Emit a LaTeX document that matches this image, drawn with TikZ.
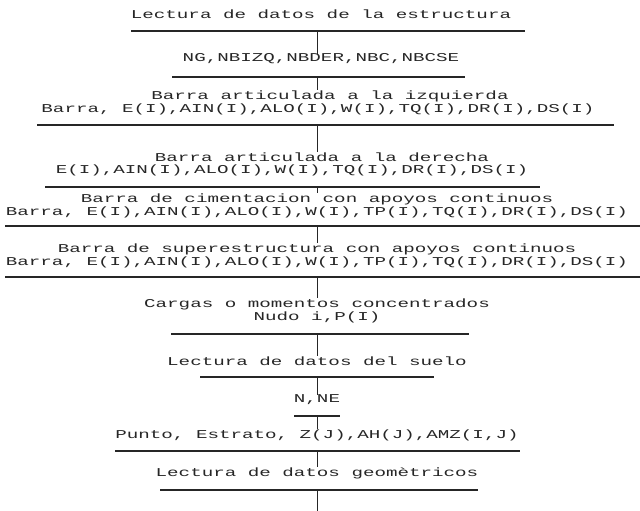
\documentclass[tikz,border=0pt]{standalone}
\usepackage{fontspec}
\newfontfamily\tw[FakeStretch=1.6]{Liberation Mono}
\begin{document}
\begin{tikzpicture}[x=1pt,y=-1pt,
  txt/.style={font=\tw\fontsize{12}{13}\selectfont, inner sep=0pt, align=center, text=black!85},
  rule/.style={line width=1.1pt, black!85},
  conn/.style={line width=0.9pt, black!85}]
\useasboundingbox (0,0) rectangle (640,511);
% texts
\node[txt] (t1) at (321,14) {Lectura de datos de la estructura};
\node[txt] (t2) at (321,59) {NG,NBIZQ,NBDER,NBC,NBCSE};
\node[txt] (t3) at (330,96) {Barra articulada a la izquierda};
\node[txt] (t3b) at (318,109.5) {Barra, E(I),AIN(I),ALO(I),W(I),TQ(I),DR(I),DS(I)};
\node[txt] (t4) at (322,157) {Barra articulada a la derecha};
\node[txt] (t4b) at (292,170.5) {E(I),AIN(I),ALO(I),W(I),TQ(I),DR(I),DS(I)};
\node[txt] (t5) at (317,199) {Barra de cimentacion con apoyos continuos};
\node[txt] (t5b) at (317,212.5) {Barra, E(I),AIN(I),ALO(I),W(I),TP(I),TQ(I),DR(I),DS(I)};
\node[txt] (t6) at (317,249) {Barra de superestructura con apoyos continuos};
\node[txt] (t6b) at (317,262.5) {Barra, E(I),AIN(I),ALO(I),W(I),TP(I),TQ(I),DR(I),DS(I)};
\node[txt] (t7) at (317,304) {Cargas o momentos concentrados};
\node[txt] (t7b) at (317,317.5) {Nudo i,P(I)};
\node[txt] (t8) at (317,361) {Lectura de datos del suelo};
\node[txt] (t9) at (317,400) {N,NE};
\node[txt] (t10) at (317,435) {Punto, Estrato, Z(J),AH(J),AMZ(I,J)};
\node[txt] (t11) at (317,473) {Lectura de datos geom\`etricos};
% rules
\coordinate (r1a) at (131,31); \coordinate (r1b) at (525,31);
\coordinate (r2a) at (172,77); \coordinate (r2b) at (465,77);
\coordinate (r3a) at (37,125); \coordinate (r3b) at (614,125);
\coordinate (r4a) at (45,187); \coordinate (r4b) at (540,187);
\coordinate (r5a) at (5,226); \coordinate (r5b) at (640,226);
\coordinate (r6a) at (5,277); \coordinate (r6b) at (640,277);
\coordinate (r7a) at (171,334); \coordinate (r7b) at (469,334);
\coordinate (r8a) at (200,377); \coordinate (r8b) at (434,377);
\coordinate (r9a) at (294,416); \coordinate (r9b) at (340,416);
\coordinate (r10a) at (115,451); \coordinate (r10b) at (520,451);
\coordinate (r11a) at (160,490); \coordinate (r11b) at (478,490);
\foreach \i in {1,...,11} \draw[rule] (r\i a) -- (r\i b);
% connectors
\coordinate (c1) at (317,31); \coordinate (c2) at (317,77); \coordinate (c3) at (317,125);
\coordinate (c4) at (317,187); \coordinate (c5) at (317,226); \coordinate (c6) at (317,277);
\coordinate (c7) at (317,334); \coordinate (c8) at (317,377); \coordinate (c9) at (317,416);
\coordinate (c10) at (317,451); \coordinate (c11) at (317,490);
\coordinate (e) at (317,511);
\draw[conn] (c1) -- (c1 |- t2.north);
\draw[conn] (c2) -- (c2 |- t3.north);
\draw[conn] (c3) -- (c3 |- t4.north);
\draw[conn] (c4) -- (c4 |- t5.north);
\draw[conn] (c5) -- (c5 |- t6.north);
\draw[conn] (c6) -- (c6 |- t7.north);
\draw[conn] (c7) -- (c7 |- t8.north);
\draw[conn] (c8) -- (c8 |- t9.north);
\draw[conn] (c9) -- (c9 |- t10.north);
\draw[conn] (c10) -- (c10 |- t11.north);
\draw[conn] (c11) -- (e);
\end{tikzpicture}
\end{document}
